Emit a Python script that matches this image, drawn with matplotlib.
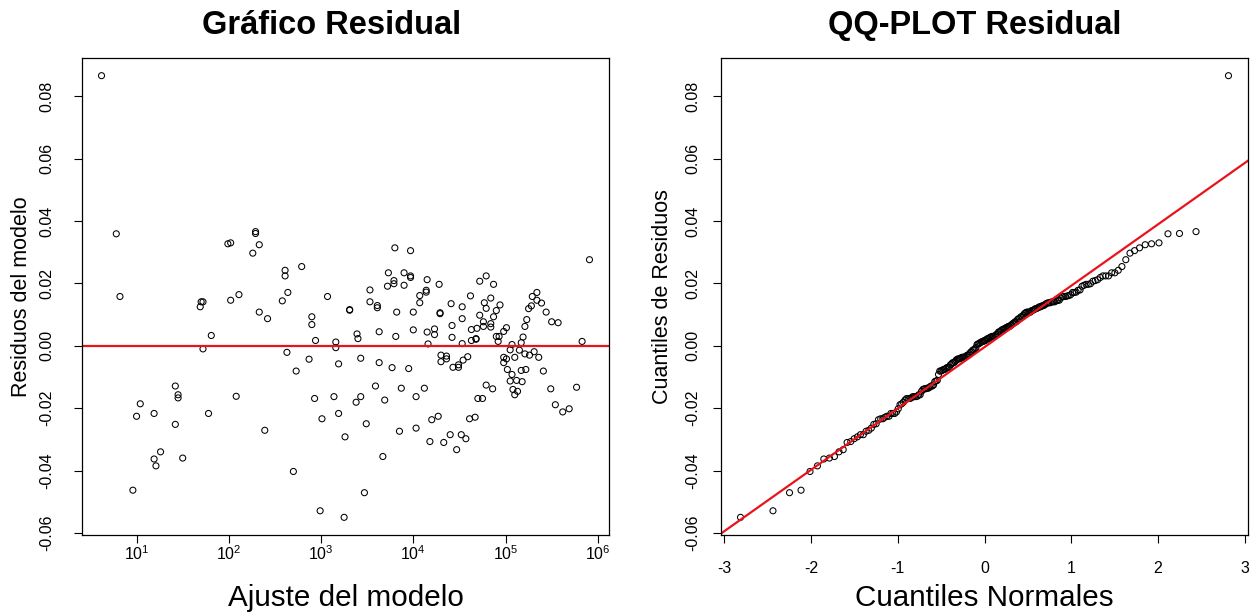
import matplotlib
matplotlib.use('Agg')
import matplotlib.pyplot as plt
from matplotlib.ticker import FixedLocator, NullLocator, LogFormatterMathtext, FormatStrFormatter
import numpy as np
from statistics import NormalDist

plt.rcParams['font.family'] = ['Liberation Sans', 'DejaVu Sans']
plt.rcParams['axes.unicode_minus'] = False
plt.rcParams['mathtext.default'] = 'regular'

# log10 del ajuste del modelo y residuo de cada observacion
log_ajuste = [
    0.62,
    0.78, 0.82, 1.99, 2.02, 2.29, 2.29, 2.33, 2.26, 1.69, 1.70, 1.72, 2.02, 2.11, 2.33, 2.42, 1.81, 1.72,
    2.61, 2.61, 2.79, 2.64, 2.58, 3.07, 2.90, 2.90, 2.94, 2.63, 2.87, 2.73, 3.16, 3.16, 3.19, 3.31, 3.31,
    3.39, 3.40, 3.43, 3.53, 3.53, 3.61, 3.61, 3.63, 3.63, 3.80, 3.97, 3.73, 3.79, 3.79, 3.72, 3.90, 3.90,
    3.97, 3.97, 3.82, 3.81, 3.77, 3.95, 4.00, 4.00, 4.15, 4.14, 4.14, 4.07, 4.07, 4.28, 4.29, 4.29, 4.15,
    4.23, 4.23, 4.16, 4.30, 4.30,
    5.91, 5.83, 4.79, 4.72, 4.87, 4.62, 4.84, 4.77, 4.79, 4.94, 4.90, 4.87, 4.41, 4.53, 4.53, 4.42, 4.72,
    4.76, 4.76, 4.84, 4.84, 4.69, 4.63, 4.42, 4.53, 4.63, 4.68, 4.68, 5.01, 4.98, 4.93, 4.90, 4.92, 5.34,
    5.29, 5.34, 5.39, 5.28, 5.25, 5.44, 5.23, 5.21, 5.50, 5.57, 5.19, 5.17, 5.07, 5.05, 5.15, 5.21, 5.26,
    5.31, 5.36, 5.10, 4.98, 4.98, 5.01, 5.02, 5.17, 5.22, 5.41, 4.59, 4.54, 4.49, 4.49, 4.43, 4.36, 4.36,
    5.07, 5.05, 5.12, 5.18, 5.08, 5.13, 5.10, 4.79, 4.86, 4.70, 4.75, 5.49, 5.77, 5.54, 5.62, 5.69, 4.61,
    4.67, 4.40, 4.52, 4.57, 4.47,
    2.93, 3.14, 3.43, 3.38, 3.59, 3.69, 3.87, 4.12, 4.03, 3.01, 3.19, 3.49, 3.26, 3.85, 4.03, 4.20, 4.27,
    4.18, 4.33, 3.67, 2.70, 3.47, 2.99, 3.25,
    1.42, 1.45, 1.45, 1.04, 1.00, 1.19, 1.42, 1.78, 2.08, 2.39, 1.26, 1.19, 1.21, 1.50, 0.96,
]
residuos = [
    0.0866,
    0.0359, 0.0158, 0.0327, 0.0330, 0.0366, 0.0360, 0.0324, 0.0297, 0.0125, 0.0141, 0.0141, 0.0146,
    0.0164, 0.0108, 0.0087, 0.0033, -0.0010,
    0.0242, 0.0224, 0.0254, 0.0171, 0.0144, 0.0158, 0.0093, 0.0068, 0.0017, -0.0021, -0.0043, -0.0081,
    0.0012, -0.0006, -0.0058, 0.0116, 0.0114, 0.0038, 0.0023, -0.0040, 0.0179, 0.0141, 0.0129, 0.0122,
    0.0045, -0.0054, 0.0314, 0.0305, 0.0234, 0.0209, 0.0199, 0.0191, 0.0234, 0.0194, 0.0224, 0.0219,
    0.0108, 0.0030, -0.0070, -0.0073, 0.0108, 0.0051, 0.0212, 0.0178, 0.0172, 0.0161, 0.0138, 0.0197,
    0.0106, 0.0103, 0.0044, 0.0054, 0.0036, 0.0006, -0.0030, -0.0051,
    0.0276, 0.0014, 0.0224, 0.0207, 0.0197, 0.0160, 0.0153, 0.0138, 0.0120, 0.0131, 0.0113, 0.0093,
    0.0135, 0.0125, 0.0087, 0.0065, 0.0098, 0.0077, 0.0062, 0.0071, 0.0060, 0.0056, 0.0052, 0.0027,
    0.0007, 0.0017, 0.0023, 0.0021, 0.0058, 0.0046, 0.0030, 0.0030, 0.0014, 0.0171, 0.0158, 0.0146,
    0.0137, 0.0128, 0.0119, 0.0108, 0.0084, 0.0062, 0.0077, 0.0074, 0.0028, 0.0010, 0.0004, -0.0013,
    -0.0014, -0.0026, -0.0030, -0.0019, -0.0037, -0.0037, -0.0037, -0.0054, -0.0042, -0.0076, -0.0079,
    -0.0076, -0.0081, -0.0035, -0.0046, -0.0061, -0.0069, -0.0069, -0.0033, -0.0042,
    -0.0092, -0.0113, -0.0111, -0.0115, -0.0140, -0.0146, -0.0157, -0.0126, -0.0138, -0.0169, -0.0169,
    -0.0138, -0.0133, -0.0189, -0.0212, -0.0202, -0.0234, -0.0229, -0.0285, -0.0285, -0.0298, -0.0333,
    -0.0169, -0.0163, -0.0163, -0.0181, -0.0129, -0.0174, -0.0136, -0.0136, -0.0163, -0.0234, -0.0217,
    -0.0250, -0.0292, -0.0274, -0.0264, -0.0237, -0.0226, -0.0307, -0.0310, -0.0355, -0.0403, -0.0471,
    -0.0529, -0.0550,
    -0.0129, -0.0157, -0.0167, -0.0186, -0.0226, -0.0217, -0.0252, -0.0217, -0.0162, -0.0271, -0.0340,
    -0.0363, -0.0385, -0.0360, -0.0463,
]

ticks_res = [-0.06, -0.04, -0.02, 0.00, 0.02, 0.04, 0.06, 0.08]
ticks_log = [1, 2, 3, 4, 5, 6]
ticks_norm = [-3, -2, -1, 0, 1, 2, 3]


def r_range(v):
    # rango con 4% extra a cada lado, como hace R
    lo, hi = min(v), max(v)
    pad = 0.04 * (hi - lo)
    return lo - pad, hi + pad


def estilo_ejes(ax, pad_x, pad_y):
    for s in ax.spines.values():
        s.set_linewidth(0.9)
        s.set_color('black')
    ax.tick_params(direction='out', length=6, width=0.8, labelsize=11.5, color='black')
    ax.tick_params(axis='x', pad=pad_x)
    ax.tick_params(axis='y', pad=pad_y)
    ax.yaxis.set_major_locator(FixedLocator(ticks_res))
    ax.yaxis.set_major_formatter(FormatStrFormatter('%.2f'))
    for lab in ax.get_yticklabels():
        lab.set_rotation(90)
        lab.set_va('center')
    ax.set_ylim(*r_range(residuos))


def grafico_residual(ax):
    x = 10 ** np.array(log_ajuste)
    ax.scatter(x, residuos, s=19, facecolors='none', edgecolors='black', linewidths=0.75)
    ax.axhline(0, color='#e8141a', lw=1.6)
    ax.set_xscale('log')
    lo, hi = r_range(log_ajuste)
    ax.set_xlim(10 ** lo, 10 ** hi)
    ax.xaxis.set_major_locator(FixedLocator([10.0 ** k for k in ticks_log]))
    ax.xaxis.set_major_formatter(LogFormatterMathtext())
    ax.xaxis.set_minor_locator(NullLocator())
    estilo_ejes(ax, 1, 14)
    ax.set_title('Gráfico Residual', fontsize=23.5, fontweight='bold', pad=17, x=0.473)
    ax.set_xlabel('Ajuste del modelo', fontsize=21.3)
    ax.set_ylabel('Residuos del modelo', fontsize=15.5)
    ax.xaxis.set_label_coords(0.5, -0.102)
    ax.yaxis.set_label_coords(-0.094, 0.5)


def qq_residual(ax):
    n = len(residuos)
    nd = NormalDist()
    teoricos = [nd.inv_cdf((i - 0.5) / n) for i in range(1, n + 1)]
    ordenados = sorted(residuos)
    ax.scatter(teoricos, ordenados, s=19, facecolors='none', edgecolors='black', linewidths=0.75)
    # qqline: recta por los cuartiles
    yq = np.percentile(residuos, [25, 75])
    xq = [nd.inv_cdf(0.25), nd.inv_cdf(0.75)]
    pend = (yq[1] - yq[0]) / (xq[1] - xq[0])
    ax.axline((xq[0], yq[0]), slope=pend, color='#e8141a', lw=1.6)
    ax.set_xlim(*r_range(teoricos))
    ax.xaxis.set_major_locator(FixedLocator(ticks_norm))
    ax.xaxis.set_major_formatter(FormatStrFormatter('%d'))
    estilo_ejes(ax, 13, 9)
    ax.set_title('QQ-PLOT Residual', fontsize=23.5, fontweight='bold', pad=17, x=0.482)
    ax.set_xlabel('Cuantiles Normales', fontsize=21.3)
    ax.set_ylabel('Cuantiles de Residuos', fontsize=15.5)
    ax.xaxis.set_label_coords(0.5, -0.102)
    ax.yaxis.set_label_coords(-0.092, 0.5)


fig = plt.figure(figsize=(12.53, 6.13), dpi=100)
ax1 = fig.add_axes([82 / 1253, 78 / 613, 527 / 1253, 477 / 613])
ax2 = fig.add_axes([721 / 1253, 78 / 613, 527 / 1253, 477 / 613])
grafico_residual(ax1)
qq_residual(ax2)
fig.savefig('out.png', dpi=100)
